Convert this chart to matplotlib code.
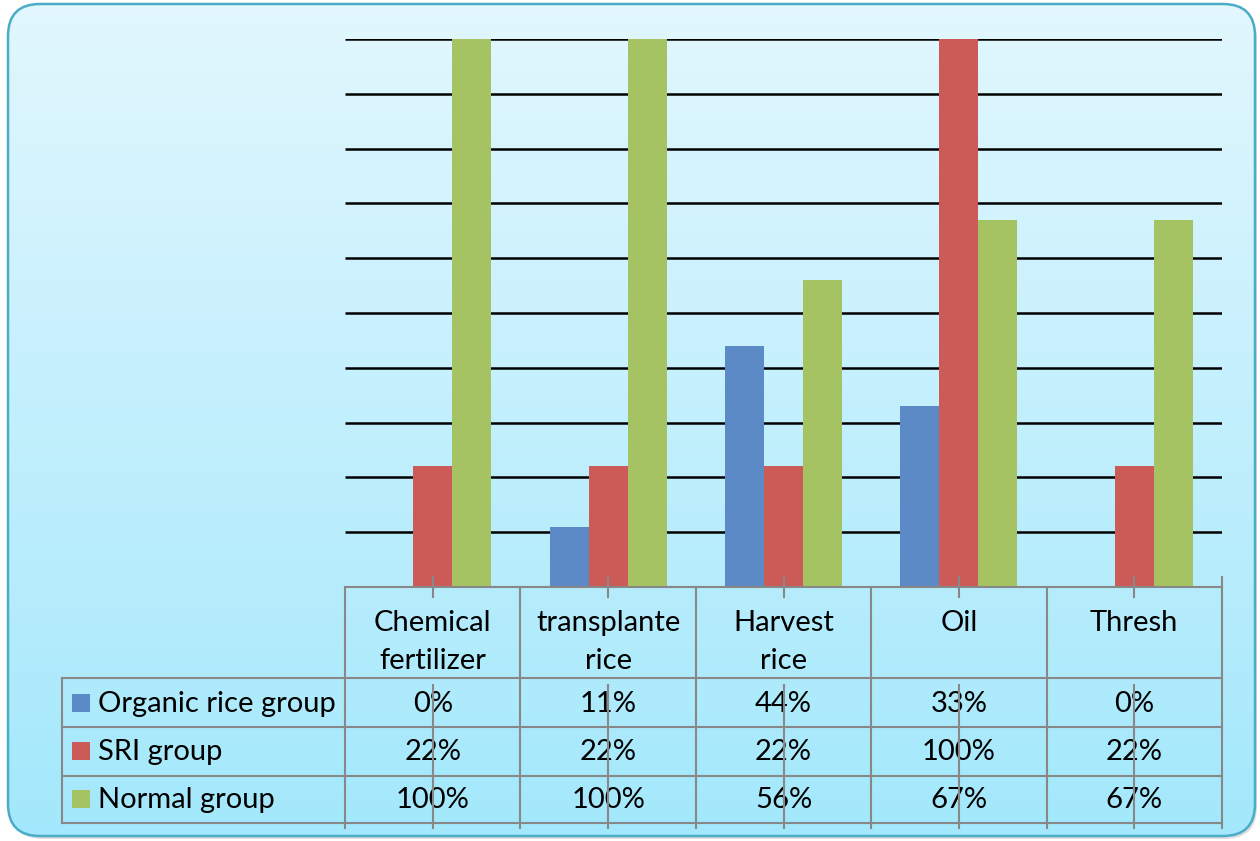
import numpy as np
import matplotlib
matplotlib.use("Agg")
import matplotlib.pyplot as plt
from matplotlib.patches import FancyBboxPatch, Rectangle

# ---------------- data ----------------
categories = ["Chemical\nfertilizer", "transplante\nrice", "Harvest\nrice", "Oil", "Thresh"]
series_names = ["Organic rice group", "SRI group", "Normal group"]
organic = [0, 11, 44, 33, 0]
sri = [22, 22, 22, 100, 22]
normal = [100, 100, 56, 67, 67]
colors = ["#5B8AC6", "#CC5A56", "#A5C362"]

plt.rcParams['font.family'] = ['Lato', 'DejaVu Sans']

W, H = 1260, 841
fig = plt.figure(figsize=(W / 100, H / 100), dpi=100)

# ---------------- background ----------------
bg = fig.add_axes([0, 0, 1, 1], zorder=0)
bg.set_xlim(0, W)
bg.set_ylim(H, 0)
bg.axis('off')
shadow = FancyBboxPatch((11, 7), 1246, 832, boxstyle="round,pad=0,rounding_size=32",
                        fc="#C8C8C8", ec="none", alpha=0.6)
bg.add_patch(shadow)
box = FancyBboxPatch((8, 4), 1247, 832, boxstyle="round,pad=0,rounding_size=32",
                     fc="none", ec="#4BACC6", lw=1.8, zorder=3)
bg.add_patch(box)
grad = np.linspace(0, 1, 256).reshape(-1, 1)
top = np.array([0xE2, 0xF7, 0xFE]) / 255
bot = np.array([0xA3, 0xE8, 0xFC]) / 255
img = top[None, None, :] * (1 - grad[:, :, None]) + bot[None, None, :] * grad[:, :, None]
im = bg.imshow(img, extent=(8, 1255, 836, 4), aspect='auto', zorder=1)
clip = FancyBboxPatch((8, 4), 1247, 832, boxstyle="round,pad=0,rounding_size=32",
                      fc="none", ec="none", transform=bg.transData)
im.set_clip_path(clip)

# ---------------- bars ----------------
x0, x1, y_top, y_bot = 345, 1222, 39, 587
ax = fig.add_axes([x0 / W, (H - y_bot) / H, (x1 - x0) / W, (y_bot - y_top) / H], zorder=1)
ax.patch.set_alpha(0)
n = len(categories)
ax.set_xlim(0, n)
ax.set_ylim(0, 100)
for s in ax.spines.values():
    s.set_visible(False)
ax.set_xticks([])
ax.set_yticks([])
ax.hlines(np.arange(10, 101, 10), 0, n, color="black", lw=1.8, zorder=1)
xs = np.arange(n) + 0.5
bw = 0.2224
for i, (vals, c) in enumerate(zip([organic, sri, normal], colors)):
    ax.bar(xs + (i - 1) * bw, vals, width=bw, color=c, zorder=2)

# ---------------- data table ----------------
tb = fig.add_axes([0, 0, 1, 1], zorder=2)
tb.patch.set_alpha(0)
tb.set_xlim(0, W)
tb.set_ylim(H, 0)
tb.axis('off')
gc = "#888888"
glw = 1.5
col_w = (x1 - x0) / n
col_edges = [x0 + k * col_w for k in range(n + 1)]
row_edges = [587, 678, 727, 776, 823]
left = 62
# horizontal lines
tb.plot([x0, x1], [row_edges[0], row_edges[0]], color=gc, lw=glw)
for y in row_edges[1:]:
    tb.plot([left, x1], [y, y], color=gc, lw=glw)
# vertical lines
tb.plot([left, left], [row_edges[1], row_edges[-1]], color=gc, lw=glw)
for k, xe in enumerate(col_edges):
    ys = 577 if k == n else row_edges[0]
    tb.plot([xe, xe], [ys, 828], color=gc, lw=glw)
for xc in col_edges[:-1]:
    c = xc + col_w / 2
    tb.plot([c, c], [577, 597], color=gc, lw=glw)
    tb.plot([c, c], [685, 828], color=gc, lw=glw)

fs = 21
for k, cat in enumerate(categories):
    c = col_edges[k] + col_w / 2
    for j, line in enumerate(cat.split("\n")):
        tb.text(c, 623 + 38 * j, line, ha='center', va='center', fontsize=fs, color='black')

row_centers = [704, 752, 800]
for r, (name, vals, colr) in enumerate(zip(series_names, [organic, sri, normal], colors)):
    yc = row_centers[r]
    tb.add_patch(Rectangle((72, yc - 10), 18, 18, fc=colr, ec='none'))
    tb.text(98, yc, name, ha='left', va='center', fontsize=fs, color='black')
    for k, v in enumerate(vals):
        c = col_edges[k] + col_w / 2
        tb.text(c, yc, f"{v}%", ha='center', va='center', fontsize=fs, color='black', zorder=0.5)

fig.savefig("out.png", dpi=100)
